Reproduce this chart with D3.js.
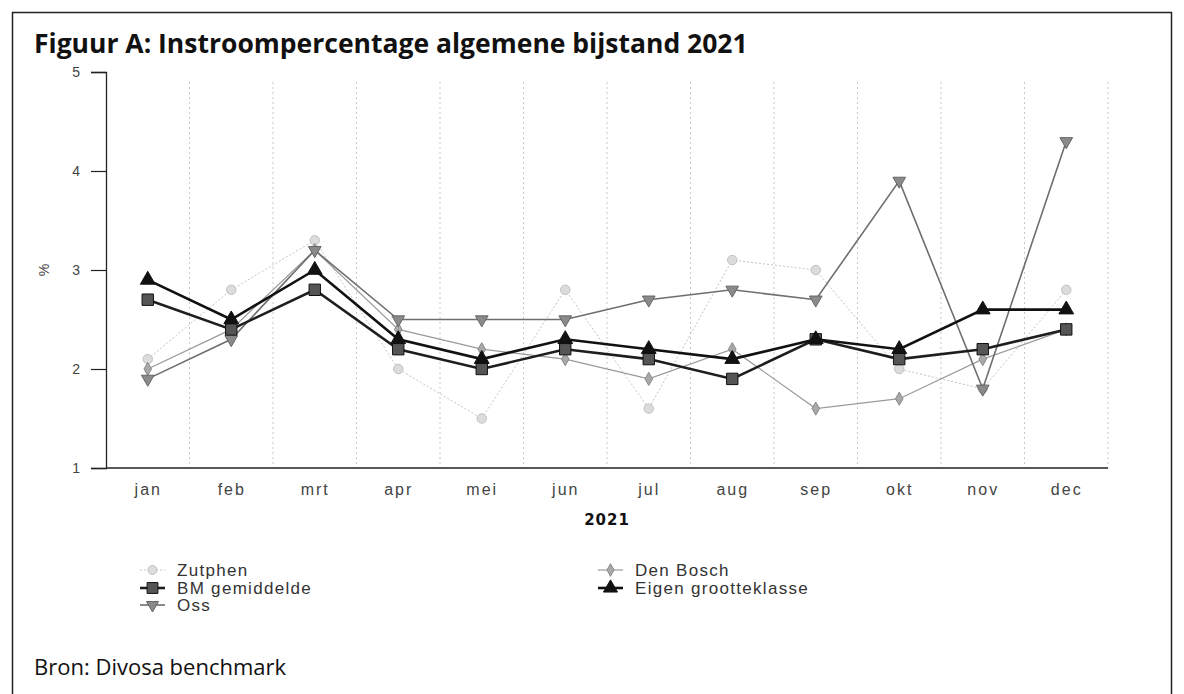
<!DOCTYPE html>
<html>
<head>
<meta charset="utf-8">
<script src="https://cdn.jsdelivr.net/npm/d3@7"></script>
<style>
    body { margin: 0; background: #fff; }
    svg { display: block; }
</style>
</head>
<body>
<svg id="chart"></svg>
<script>
const months = ["jan", "feb", "mrt", "apr", "mei", "jun", "jul", "aug", "sep", "okt", "nov", "dec"];
const yTicks = [1, 2, 3, 4, 5];

const zutphen = [2.1, 2.8, 3.3, 2.0, 1.5, 2.8, 1.6, 3.1, 3.0, 2.0, 1.8, 2.8];
const denBosch = [2.0, 2.4, 3.2, 2.4, 2.2, 2.1, 1.9, 2.2, 1.6, 1.7, 2.1, 2.4];
const oss = [1.9, 2.3, 3.2, 2.5, 2.5, 2.5, 2.7, 2.8, 2.7, 3.9, 1.8, 4.3];
const bmGemiddelde = [2.7, 2.4, 2.8, 2.2, 2.0, 2.2, 2.1, 1.9, 2.3, 2.1, 2.2, 2.4];
const eigenGrootteklasse = [2.9, 2.5, 3.0, 2.3, 2.1, 2.3, 2.2, 2.1, 2.3, 2.2, 2.6, 2.6];

const width = 1184;
const height = 694;

// series styling, drawn in this order
const series = [
    { name: "Zutphen", values: zutphen, stroke: "#c4c4c4", width: 1, dash: "2,2", symbol: d3.symbolCircle, size: 70, fill: "#dcdcdc", mstroke: "#c0c0c0" },
    { name: "Den Bosch", values: denBosch, stroke: "#9a9a9a", width: 1.2, dash: null, symbol: d3.symbolDiamond, size: 50, fill: "#a8a8a8", mstroke: "#8a8a8a" },
    { name: "Oss", values: oss, stroke: "#6e6e6e", width: 1.6, dash: null, symbol: d3.symbolTriangle, size: 70, fill: "#8a8a8a", mstroke: "#666", flip: true },
    { name: "BM gemiddelde", values: bmGemiddelde, stroke: "#1e1e1e", width: 2.6, dash: null, symbol: d3.symbolSquare, size: 130, fill: "#555", mstroke: "#111" },
    { name: "Eigen grootteklasse", values: eigenGrootteklasse, stroke: "#111", width: 2.6, dash: null, symbol: d3.symbolTriangle, size: 95, fill: "#111", mstroke: "#111" }
];

const svg = d3.select("#chart")
    .attr("width", width)
    .attr("height", height);

// outer frame
svg.append("rect")
    .attr("x", 12.5).attr("y", 12.5)
    .attr("width", 1159).attr("height", 720)
    .attr("fill", "none")
    .attr("stroke", "#222")
    .attr("stroke-width", 1.5);

svg.append("text")
    .attr("x", 34).attr("y", 53)
    .attr("font-family", "'Open Sans', Lato, sans-serif")
    .attr("font-weight", "bold")
    .attr("font-size", 26.5)
    .attr("fill", "#111")
    .text("Figuur A: Instroompercentage algemene bijstand 2021");

const plot = { left: 106, right: 1108, top: 72, bottom: 468 };

const x = d3.scalePoint()
    .domain(months)
    .range([plot.left, plot.right])
    .padding(0.5);

const y = d3.scaleLinear()
    .domain([1, 5])
    .range([plot.bottom, plot.top]);

// dotted vertical grid at month boundaries
const step = x.step();
const gridX = months.map(m => x(m) + step / 2);
svg.append("g")
    .selectAll("line")
    .data(gridX)
    .join("line")
    .attr("x1", d => d).attr("x2", d => d)
    .attr("y1", plot.top + 10).attr("y2", plot.bottom)
    .attr("stroke", "#c8c8c8")
    .attr("stroke-width", 1)
    .attr("stroke-dasharray", "2,3");

// y axis
const yAxis = svg.append("g")
    .attr("transform", `translate(${plot.left},0)`)
    .call(d3.axisLeft(y).tickValues(yTicks).tickSize(15).tickPadding(11).tickFormat(d3.format("d")));
yAxis.select(".domain").attr("stroke", "#222").attr("stroke-width", 1.3);
yAxis.selectAll(".tick line").attr("stroke", "#222").attr("stroke-width", 1.2);
yAxis.selectAll(".tick text")
    .attr("font-family", "'Liberation Sans', Arial, sans-serif")
    .attr("font-size", 14)
    .attr("fill", "#444");

// x axis
const xAxis = svg.append("g")
    .attr("transform", `translate(0,${plot.bottom})`)
    .call(d3.axisBottom(x).tickSize(0).tickPadding(16));
xAxis.select(".domain").attr("stroke", "#222").attr("stroke-width", 1.5)
    .attr("d", `M${plot.left},0H${plot.right}`);
xAxis.selectAll(".tick text")
    .attr("font-family", "'Liberation Sans', Arial, sans-serif")
    .attr("font-size", 16)
    .attr("letter-spacing", 2)
    .attr("fill", "#444");

svg.append("text")
    .attr("x", (plot.left + plot.right) / 2)
    .attr("y", 525)
    .attr("text-anchor", "middle")
    .attr("font-family", "'DejaVu Sans', sans-serif")
    .attr("font-weight", "bold")
    .attr("font-size", 15)
    .attr("letter-spacing", 1)
    .attr("fill", "#111")
    .text("2021");

svg.append("text")
    .attr("transform", `translate(49,${y(3)}) rotate(-90)`)
    .attr("text-anchor", "middle")
    .attr("font-family", "'Liberation Sans', Arial, sans-serif")
    .attr("font-size", 14)
    .attr("fill", "#444")
    .text("%");

// lines and markers
const line = d3.line()
    .x((d, i) => x(months[i]))
    .y(d => y(d));

series.forEach(s => {
    const g = svg.append("g");
    g.append("path")
        .datum(s.values)
        .attr("d", line)
        .attr("fill", "none")
        .attr("stroke", s.stroke)
        .attr("stroke-width", s.width)
        .attr("stroke-dasharray", s.dash);
    g.selectAll("path.m")
        .data(s.values)
        .join("path")
        .attr("class", "m")
        .attr("d", d3.symbol().type(s.symbol).size(s.size))
        .attr("transform", (d, i) => `translate(${x(months[i])},${y(d)})${s.flip ? " rotate(180)" : ""}`)
        .attr("fill", s.fill)
        .attr("stroke", s.mstroke)
        .attr("stroke-width", 1);
});

// legend
const legendItems = [
    { s: series[0], x: 140, y: 570 },
    { s: series[3], x: 140, y: 588 },
    { s: series[2], x: 140, y: 605 },
    { s: series[1], x: 598, y: 570 },
    { s: series[4], x: 598, y: 588 }
];

const legend = svg.append("g")
    .selectAll("g")
    .data(legendItems)
    .join("g")
    .attr("transform", d => `translate(${d.x},${d.y})`);

legend.append("line")
    .attr("x1", 0).attr("x2", 25)
    .attr("stroke", d => d.s.stroke)
    .attr("stroke-width", d => d.s.width)
    .attr("stroke-dasharray", d => d.s.dash);

legend.append("path")
    .attr("d", d => d3.symbol().type(d.s.symbol).size(d.s.size * 0.9)())
    .attr("transform", d => `translate(12.5,0)${d.s.flip ? " rotate(180)" : ""}`)
    .attr("fill", d => d.s.fill)
    .attr("stroke", d => d.s.mstroke);

legend.append("text")
    .attr("x", 37)
    .attr("dy", "0.35em")
    .attr("font-family", "'Liberation Sans', Arial, sans-serif")
    .attr("font-size", 17)
    .attr("letter-spacing", 1.3)
    .attr("fill", "#333")
    .text(d => d.s.name);

svg.append("text")
    .attr("x", 34).attr("y", 675)
    .attr("font-family", "'Open Sans', Lato, sans-serif")
    .attr("font-size", 22)
    .attr("fill", "#111")
    .text("Bron: Divosa benchmark");
</script>
</body>
</html>
